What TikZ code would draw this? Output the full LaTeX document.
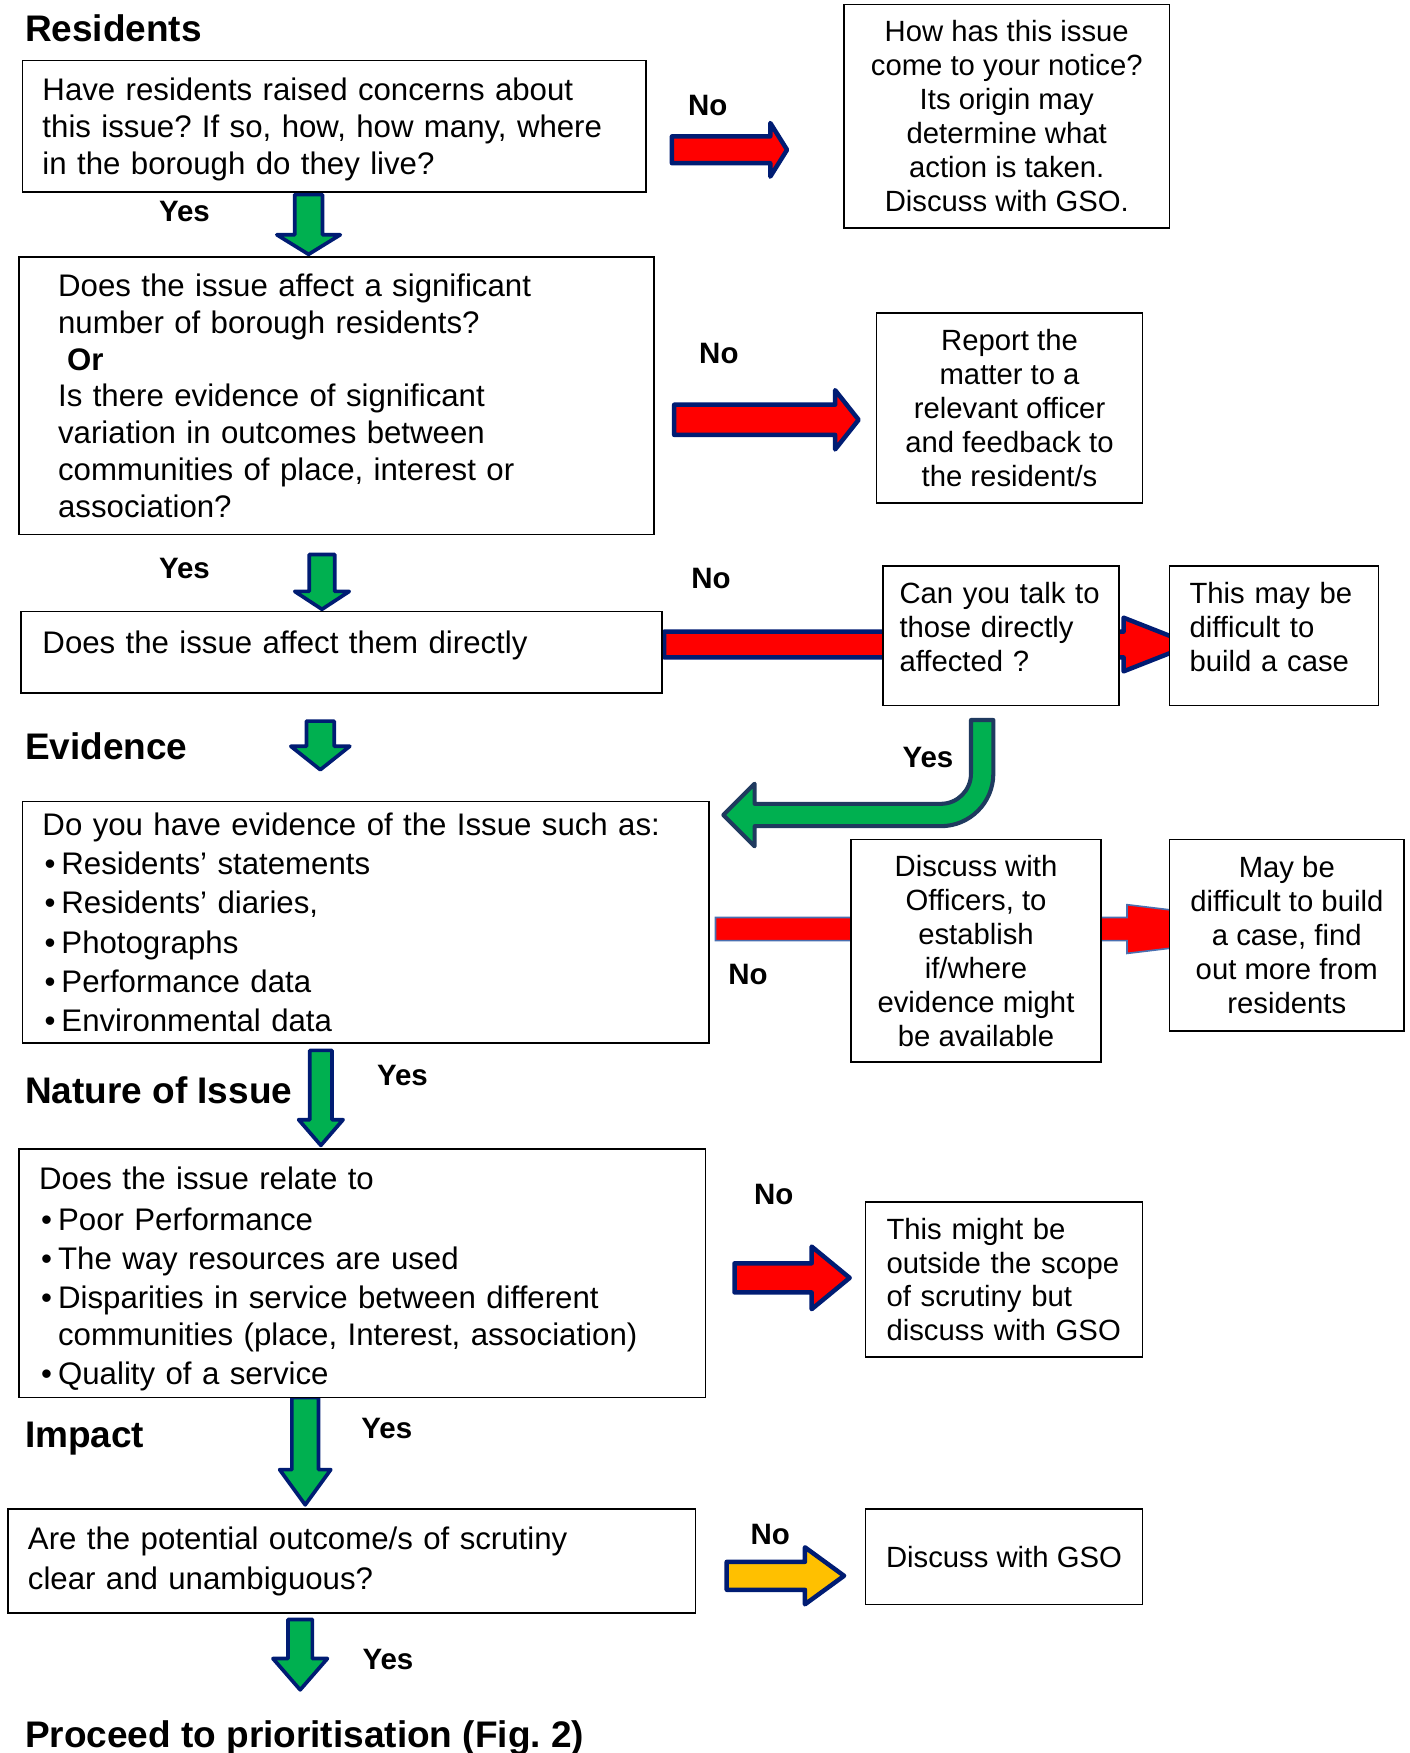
\documentclass[tikz,border=0pt]{standalone}
\usepackage{fontspec}
\setmainfont{Liberation Sans}
\usetikzlibrary{positioning}
\frenchspacing
\definecolor{navy}{HTML}{001C73}
\definecolor{slateblue}{HTML}{1F3A5F}
\definecolor{arrgreen}{HTML}{00B050}
\definecolor{arryellow}{HTML}{FFC000}
\definecolor{thinblue}{HTML}{4A6FB0}
\newcommand{\bodyfont}{\fontsize{15.35pt}{18.15pt}\selectfont}
\newcommand{\listfont}{\fontsize{15.35pt}{19.25pt}\selectfont}
\newcommand{\sidefont}{\fontsize{14.4pt}{16.7pt}\selectfont}
\newcommand{\headfont}{\fontsize{18.2pt}{21pt}\selectfont\bfseries}
\newcommand{\tagfont}{\fontsize{14.5pt}{17pt}\selectfont\bfseries}
\newcommand{\bul}{\hspace*{1pt}\makebox[8.35pt][l]{•}}
\newcommand{\lowstrut}[1]{\rule[-#1]{0pt}{0pt}}
\tikzset{
  pics/blockarrow/.style args={#1/#2/#3/#4}{code={% length/shaft/head/head length
    \path[pic actions] (0,-#2) -- ({#1-#4},-#2) -- ({#1-#4},-#3) -- (#1,0)
      -- ({#1-#4},#3) -- ({#1-#4},#2) -- (0,#2) -- cycle;}}
}
\begin{document}
\begin{tikzpicture}[x=0.55pt,y=-0.55pt,
  box/.style={draw,line width=0.8pt,fill=white,inner sep=0pt},
  leftbox/.style={box,align=left,font=\bodyfont},
  sidebox/.style={box,align=center,font=\sidefont},
  heading/.style={font=\headfont,inner sep=0pt,anchor=base west},
  tag/.style={font=\tagfont,inner sep=0pt,anchor=base},
  greenarr/.style={draw=navy,fill=arrgreen,line width=1.8pt,line join=round},
  redarr/.style={draw=navy,fill=red,line width=2.2pt,line join=round},
  yellowarr/.style={draw=navy,fill=arryellow,line width=2.2pt,line join=round},
  bendarr/.style={draw=slateblue,fill=arrgreen,line width=2pt,line join=round}]
\useasboundingbox (0,0) rectangle (1261,1568);

% block arrows
\pic[redarr] (no1) at (601,134) {blockarrow=103/12/24/15};
\pic[redarr] (no2) at (603,375.5) {blockarrow=165/13.5/26.5/21};
\pic[redarr] (no3) at (594,576.5) {blockarrow=472/11.5/24/61};
\pic[draw=thinblue,fill=red,line width=0.8pt] (no4) at (640,831) {blockarrow=550/10.3/21.8/182};
\pic[redarr] (no5) at (657,1143) {blockarrow=103/13/28/34};
\pic[yellowarr] (no6) at (650,1409.5) {blockarrow=105/12.5/25.5/35};
\pic[greenarr,rotate=-90] (yes1) at (276,174) {blockarrow=53.5/12.4/28.4/17.5};
\pic[greenarr,rotate=-90] (yes2) at (288,496) {blockarrow=49/11.4/24.4/16};
\pic[greenarr,rotate=-90] (down3) at (286.5,645) {blockarrow=43.5/12.4/26.4/21};
\pic[greenarr,rotate=-90] (yes4) at (287,939.5) {blockarrow=85/9.9/19.9/23};
\pic[greenarr,rotate=-90] (yes5) at (273,1250) {blockarrow=96/11.9/22.9/31.5};
\pic[greenarr,rotate=-90] (yes6) at (268.5,1448.5) {blockarrow=63/10.9/24.4/28};
\draw[bendarr] (868.5,644) -- (888.5,644) -- (888.5,692)
  arc[start angle=0,end angle=90,radius=47] -- (675,739) -- (675,757)
  -- (647,729) -- (675,701) -- (675,719) -- (841.5,719)
  arc[start angle=90,end angle=0,radius=27] -- cycle;

% boxes
\node[leftbox,minimum width=306.9pt,minimum height=64.9pt,text width=287.1pt] (resid) at (299,113)
  {\rule{0pt}{14.5pt}Have residents raised concerns about\\this issue? If so, how, how many, where\\in the borough do they live?};
\node[sidebox,minimum width=160.05pt,minimum height=110pt] (notice) at (900.5,104)
  {How has this issue\\come to your notice?\\Its origin may\\determine what\\action is taken.\\Discuss with GSO.};
\node[leftbox,minimum width=312.4pt,minimum height=136.4pt,text width=273.9pt] (signif) at (301,354)
  {Does the issue affect a significant\\number of borough residents?\\\hspace*{4.4pt}\textbf{Or}\\Is there evidence of significant\\variation in outcomes between\\communities of place, interest or\\association?};
\node[sidebox,minimum width=130.9pt,minimum height=93.5pt] (report) at (903,365)
  {Report the\\matter to a\\relevant officer\\and feedback to\\the resident/s};
\node[leftbox,minimum width=315.15pt,minimum height=40.15pt,text width=294.25pt,text depth=10.4pt] (direct) at (305.5,583.5)
  {Does the issue affect them directly};
\node[box,align=left,font=\sidefont,minimum width=116.05pt,minimum height=68.75pt,text width=100pt] (talk) at (895.5,568.5)
  {Can you talk to\\those directly\\affected ?\lowstrut{8.5pt}};
\node[box,align=left,font=\sidefont,minimum width=102.85pt,minimum height=68.75pt,text width=83.05pt] (hard) at (1139.5,568.5)
  {This may be\\difficult to\\build a case\lowstrut{8.5pt}};
\node[leftbox,font=\listfont,minimum width=337.7pt,minimum height=118.8pt,text width=317.9pt] (evid) at (327,825)
  {Do you have evidence of the Issue such as:\\\bul Residents’ statements\\\bul Residents’ diaries,\\\bul Photographs\\\bul Performance data\\\bul Environmental data};
\node[sidebox,minimum width=123.2pt,minimum height=109.45pt] (officers) at (873,850.5)
  {Discuss with\\Officers, to\\establish\\if/where\\evidence might\\be available};
\node[sidebox,minimum width=115.5pt,minimum height=94.05pt] (moreinfo) at (1151,836.5)
  {May be\\difficult to build\\a case, find\\out more from\\residents};
\node[leftbox,font=\listfont,minimum width=337.7pt,minimum height=122.1pt,text width=317.9pt] (nature) at (324,1139)
  {\rule{0pt}{16.7pt}Does the issue relate to\\[1.1pt]\bul Poor Performance\\\bul The way resources are used\\\bul Disparities in service between different\\[-1.1pt]\hspace*{9.35pt}communities (place, Interest, association)\\\bul Quality of a service};
\node[box,align=left,font=\sidefont,minimum width=136.4pt,minimum height=76.45pt,text width=115.5pt] (scope) at (898,1144.5)
  {This might be\\outside the scope\\of scrutiny but\\discuss with GSO};
\node[leftbox,font=\fontsize{15.35pt}{19.8pt}\selectfont,minimum width=338.25pt,minimum height=51.15pt,text width=318.45pt] (impact) at (314.5,1396.5)
  {Are the potential outcome/s of scrutiny\\clear and unambiguous?};
\node[sidebox,minimum width=136.4pt,minimum height=46.75pt] (gso) at (898,1392.5)
  {Discuss with GSO};

% headings
\node[heading] (hres) at (22,36.7) {Residents};
\node[heading] (hevid) at (22,679.7) {Evidence};
\node[heading] (hnat) at (22,986.7) {Nature of Issue};
\node[heading] (himp) at (22,1294.7) {Impact};
\node[heading] (hprio) at (22,1562.7) {Proceed to prioritisation (Fig. 2)};

% yes / no
\node[tag] (tno1) at (633,103.5) {No};
\node[tag] (tyes1) at (165,198.5) {Yes};
\node[tag] (tno2) at (643,325.5) {No};
\node[tag] (tyes2) at (165,517.5) {Yes};
\node[tag] (tno3) at (636,526.5) {No};
\node[tag] (tyes3) at (830,686.5) {Yes};
\node[tag] (tno4) at (669,880.5) {No};
\node[tag] (tyes4) at (360,970.5) {Yes};
\node[tag] (tno5) at (692,1077.5) {No};
\node[tag] (tyes5) at (346,1286.5) {Yes};
\node[tag] (tno6) at (689,1381.5) {No};
\node[tag] (tyes6) at (347,1493.5) {Yes};
\end{tikzpicture}
\end{document}
